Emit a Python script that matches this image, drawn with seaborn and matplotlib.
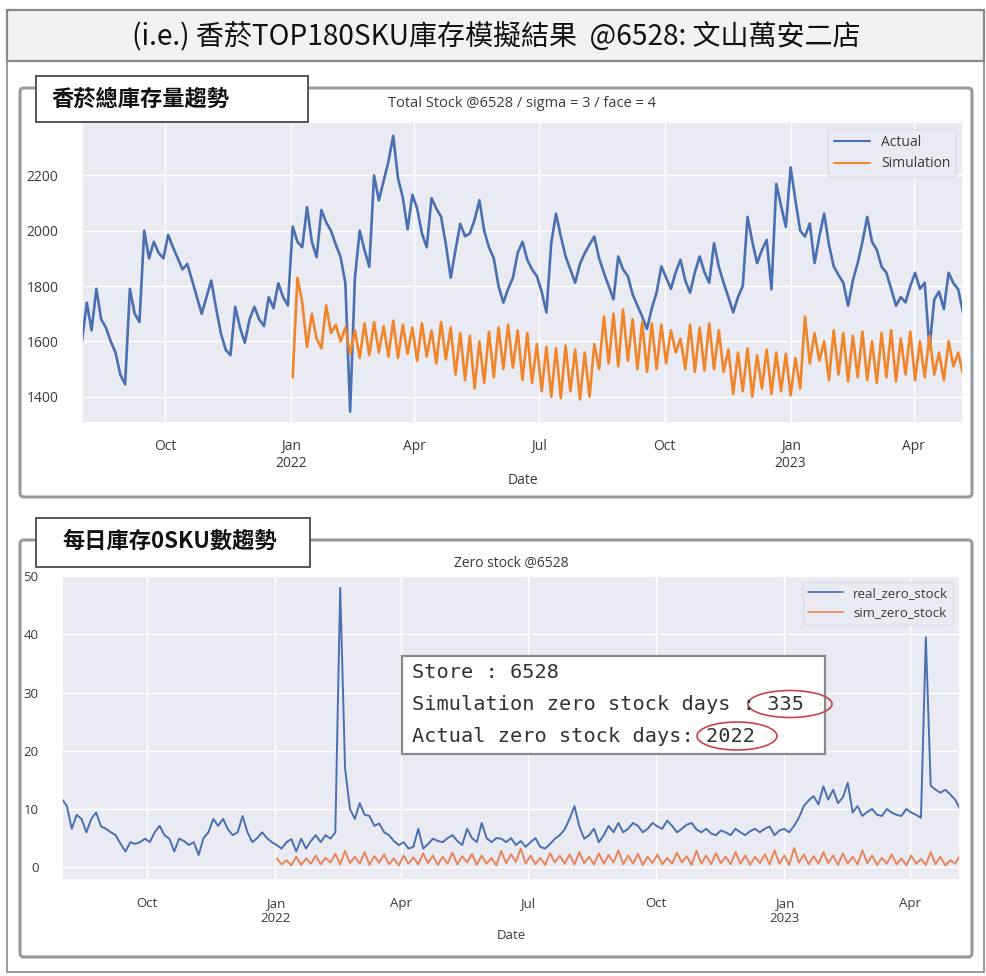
import numpy as np
import pandas as pd
import matplotlib
matplotlib.use('Agg')
import matplotlib.pyplot as plt
import matplotlib.dates as mdates
from matplotlib.patches import Rectangle, FancyBboxPatch, Ellipse
from matplotlib.ticker import FuncFormatter, MultipleLocator
import seaborn as sns

# ---------------- data ----------------
start_date = '2021-08-01'
step = '84h'  # one reading every 3.5 days

actual_stock = [
    1600, 1740, 1640, 1790, 1680, 1650, 1600, 1560, 1480, 1445,
    1790, 1700, 1670, 2000, 1900, 1960, 1920, 1900, 1985, 1940,
    1900, 1860, 1880, 1820, 1760, 1700, 1760, 1820, 1720, 1630,
    1570, 1550, 1725, 1650, 1595, 1680, 1725, 1680, 1655, 1760,
    1720, 1810, 1760, 1730, 2015, 1960, 1940, 2085, 1960, 1905,
    2075, 2030, 2000, 1950, 1905, 1811, 1346, 1830, 2000, 1930,
    1870, 2200, 2110, 2180, 2250, 2343, 2190, 2120, 2005, 2130,
    2080, 1990, 1940, 2118, 2080, 2050, 1950, 1830, 1930, 2025,
    1980, 1990, 2040, 2110, 2000, 1940, 1900, 1800, 1740, 1790,
    1830, 1920, 1960, 1895, 1860, 1836, 1780, 1705, 1955, 2062,
    1980, 1907, 1860, 1812, 1880, 1919, 1950, 1979, 1900, 1848,
    1800, 1752, 1907, 1860, 1836, 1770, 1729, 1690, 1645, 1720,
    1776, 1871, 1830, 1790, 1850, 1895, 1820, 1776, 1850, 1907,
    1850, 1812, 1955, 1870, 1812, 1760, 1705, 1760, 1800, 2050,
    1960, 1883, 1930, 1967, 1788, 2169, 2090, 2014, 2229, 2110,
    2000, 1979, 2026, 1883, 1980, 2062, 1950, 1871, 1840, 1812,
    1729, 1820, 1883, 1960, 2050, 1960, 1931, 1870, 1848, 1790,
    1729, 1760, 1741, 1800, 1848, 1790, 1812, 1574, 1752, 1780,
    1717, 1848, 1810, 1788, 1705,
]

# simulation starts 2022-01-01
sim_stock = [
    1470, 1830, 1740, 1580, 1700, 1610, 1575, 1730, 1630, 1660,
    1600, 1650, 1555, 1640, 1540, 1665, 1550, 1670, 1560, 1655,
    1545, 1675, 1540, 1660, 1555, 1650, 1530, 1665, 1545, 1640,
    1520, 1670, 1535, 1650, 1480, 1630, 1460, 1620, 1430, 1600,
    1450, 1635, 1470, 1650, 1500, 1660, 1505, 1640, 1460, 1630,
    1450, 1590, 1420, 1580, 1400, 1575, 1395, 1585, 1420, 1570,
    1390, 1560, 1400, 1590, 1500, 1690, 1520, 1700, 1510, 1715,
    1530, 1680, 1500, 1670, 1490, 1665, 1500, 1660, 1520, 1640,
    1560, 1610, 1500, 1660, 1490, 1650, 1495, 1665, 1500, 1640,
    1490, 1570, 1410, 1560, 1420, 1575, 1400, 1550, 1430, 1570,
    1410, 1560, 1420, 1555, 1405, 1540, 1430, 1690, 1520, 1630,
    1530, 1600, 1460, 1640, 1480, 1630, 1455, 1620, 1470, 1635,
    1460, 1600, 1450, 1630, 1470, 1640, 1455, 1610, 1480, 1635,
    1460, 1600, 1470, 1620, 1480, 1560, 1460, 1600, 1510, 1560,
    1480,
]

real_zero_stock = [
    11.7, 10.5, 6.6, 9.0, 8.3, 6.0, 8.3, 9.4, 7.0, 6.6,
    6.0, 5.5, 4.0, 2.7, 4.3, 4.0, 4.3, 4.9, 4.3, 6.0,
    7.1, 5.5, 4.9, 2.7, 4.9, 4.5, 3.8, 4.3, 2.1, 5.0,
    6.0, 8.3, 7.1, 8.3, 6.5, 5.5, 6.0, 8.8, 6.0, 4.3,
    5.0, 6.0, 5.0, 4.3, 3.8, 3.2, 4.3, 4.8, 2.7, 4.9,
    3.2, 4.5, 5.5, 4.3, 5.5, 4.9, 6.0, 48.0, 17.0, 10.0,
    8.3, 11.0, 9.0, 8.8, 7.1, 7.5, 6.0, 5.5, 4.5, 3.8,
    4.3, 3.2, 3.5, 6.6, 3.2, 4.0, 4.9, 4.5, 4.3, 5.0,
    5.5, 4.5, 3.8, 6.6, 5.0, 4.3, 7.6, 5.0, 4.3, 5.0,
    4.9, 4.3, 5.0, 3.8, 4.5, 3.5, 4.3, 5.0, 3.5, 3.2,
    4.0, 4.9, 5.5, 6.5, 8.3, 10.5, 7.0, 4.9, 5.5, 6.6,
    4.3, 5.5, 7.1, 6.0, 7.6, 6.0, 6.6, 7.6, 7.1, 6.0,
    6.6, 7.6, 7.0, 6.6, 8.0, 7.1, 6.0, 6.6, 7.3, 7.6,
    6.5, 6.0, 6.6, 5.8, 5.5, 6.3, 6.0, 5.5, 6.6, 6.0,
    5.5, 6.2, 6.6, 6.0, 6.6, 7.0, 5.5, 6.3, 6.6, 6.0,
    7.1, 8.5, 10.5, 11.5, 12.2, 10.8, 13.9, 11.6, 13.3, 11.0,
    12.0, 14.5, 9.4, 10.5, 8.8, 9.5, 10.0, 9.0, 8.8, 10.0,
    9.4, 9.0, 8.8, 10.0, 9.4, 9.0, 8.5, 39.5, 14.0, 13.3,
    12.8, 13.3, 12.5, 11.6, 10.0,
]

sim_zero_stock = [
    1.5, 0.5, 1.2, 0.3, 1.8, 0.4, 1.5, 0.6, 2.0, 0.5,
    1.6, 0.8, 2.3, 0.5, 2.8, 0.7, 1.8, 0.6, 2.6, 0.4,
    1.9, 0.8, 2.2, 0.5, 1.5, 0.3, 2.0, 0.6, 1.7, 0.5,
    2.4, 0.7, 2.0, 0.4, 1.8, 0.6, 2.5, 0.5, 1.9, 0.8,
    2.3, 0.4, 2.0, 0.6, 1.6, 0.3, 2.8, 0.7, 2.2, 0.9,
    3.2, 0.6, 2.0, 0.5, 1.6, 0.4, 2.4, 0.8, 2.0, 0.6,
    2.2, 0.5, 2.6, 0.7, 1.8, 0.5, 2.4, 0.6, 2.1, 0.8,
    2.9, 0.5, 2.0, 0.6, 2.3, 0.4, 1.8, 0.7, 2.2, 0.5,
    1.6, 0.6, 2.5, 0.8, 1.9, 0.4, 2.8, 0.6, 2.0, 0.5,
    2.4, 0.7, 1.8, 0.5, 2.6, 0.6, 2.0, 0.4, 1.8, 0.7,
    2.2, 0.5, 2.9, 0.6, 2.0, 0.4, 3.3, 0.8, 2.2, 0.5,
    1.9, 0.6, 2.6, 0.7, 2.0, 0.4, 2.4, 0.6, 1.8, 0.5,
    2.9, 0.7, 2.0, 0.4, 1.6, 0.6, 2.2, 0.5, 1.5, 0.3,
    2.0, 0.6, 1.4, 0.4, 2.6, 0.5, 1.8, 0.3, 1.2, 0.6,
    2.0,
]

stock_labels = ['Actual', 'Simulation']
zero_labels = ['real_zero_stock', 'sim_zero_stock']
main_title = '(i.e.) 香菸TOP180SKU庫存模擬結果  @6528: 文山萬安二店'
panel1_label = '香菸總庫存量趨勢'
panel2_label = '每日庫存0SKU數趨勢'
chart1_title = 'Total Stock @6528 / sigma = 3 / face = 4'
chart2_title = 'Zero stock @6528'
store_id = '6528'
sim_zero_days = 335
actual_zero_days = 2022

# ---------------- frames ----------------
dates = pd.date_range(start_date, periods=len(actual_stock), freq=step)
sim_dates = dates[len(dates) - len(sim_stock):]
zero_dates = pd.date_range(start_date, periods=len(real_zero_stock), freq=step)
sim_zero_dates = zero_dates[len(zero_dates) - len(sim_zero_stock):]

df_actual = pd.DataFrame({'Date': dates, 'value': actual_stock})
df_sim = pd.DataFrame({'Date': sim_dates, 'value': sim_stock})
df_rz = pd.DataFrame({'Date': zero_dates, 'value': real_zero_stock})
df_sz = pd.DataFrame({'Date': sim_zero_dates, 'value': sim_zero_stock})

# ---------------- style ----------------
sns.set_theme(style='darkgrid')
plt.rcParams['font.family'] = ['Open Sans', 'DejaVu Sans']
CJK = ['Noto Sans CJK TC', 'DejaVu Sans']

BLUE = '#4a70b2'
ORANGE1 = '#f0852a'
ORANGE2 = '#e8855a'
TXT = '#3a3a3a'

W, H = 987, 976
fig = plt.figure(figsize=(W / 100, H / 100), dpi=100)
fig.patch.set_facecolor('white')


def px_axes(l, t, r, b):
    return [l / W, 1 - b / H, (r - l) / W, (b - t) / H]


def date_fmt(x, pos):
    d = mdates.num2date(x)
    return f'Jan\n{d.year}' if d.month == 1 else d.strftime('%b')


def style_axes(ax, fs, xpad, labelpad):
    ax.xaxis.set_major_locator(mdates.MonthLocator(bymonth=[1, 4, 7, 10]))
    ax.xaxis.set_major_formatter(FuncFormatter(date_fmt))
    ax.tick_params(axis='both', labelsize=fs, labelcolor=TXT)
    ax.tick_params(axis='y', pad=11)
    ax.tick_params(axis='x', pad=xpad)
    for lab in ax.get_xticklabels():
        lab.set_horizontalalignment('center')
    ax.set_ylabel('')
    ax.set_xlabel('Date', fontsize=fs, color=TXT, labelpad=labelpad)
    ax.set_xlim(dates[0], dates[-1])
    ax.grid(color='white', linewidth=1.0)


# chart 1
ax1 = fig.add_axes(px_axes(82, 122, 963, 423))
sns.lineplot(data=df_actual, x='Date', y='value', ax=ax1, color=BLUE,
             linewidth=1.9, label=stock_labels[0], estimator=None)
sns.lineplot(data=df_sim, x='Date', y='value', ax=ax1, color=ORANGE1,
             linewidth=1.9, label=stock_labels[1], estimator=None)
ax1.set_ylim(1305, 2393)
ax1.yaxis.set_major_locator(MultipleLocator(200))
style_axes(ax1, 10, 5.5, 1)
ax1.set_title(chart1_title, fontsize=10.5, color=TXT, pad=11)
leg1 = ax1.legend(loc='upper right', fontsize=10, frameon=True,
                  handlelength=2.6, borderaxespad=0.5)
leg1.get_frame().set_facecolor('#eaeaf2')
leg1.get_frame().set_edgecolor('#dcdce6')
for t in leg1.get_texts():
    t.set_color(TXT)
for h in leg1.get_lines():
    h.set_linewidth(1.5)

# chart 2
ax2 = fig.add_axes(px_axes(62, 575, 960, 880))
sns.lineplot(data=df_rz, x='Date', y='value', ax=ax2, color=BLUE,
             linewidth=1.4, label=zero_labels[0], estimator=None)
sns.lineplot(data=df_sz, x='Date', y='value', ax=ax2, color=ORANGE2,
             linewidth=1.4, label=zero_labels[1], estimator=None)
ax2.set_ylim(-2.2, 50.2)
ax2.yaxis.set_major_locator(MultipleLocator(10))
style_axes(ax2, 9.5, 6.5, 2.5)
ax2.set_title(chart2_title, fontsize=10, color=TXT, pad=6)
leg2 = ax2.legend(loc='upper right', fontsize=9.5, frameon=True,
                  handlelength=2.6, borderaxespad=0.5)
leg2.get_frame().set_facecolor('#eaeaf2')
leg2.get_frame().set_edgecolor('#dcdce6')
for t in leg2.get_texts():
    t.set_color(TXT)
for h in leg2.get_lines():
    h.set_linewidth(1.2)

# ---------------- overlay decorations (pixel coordinates) ----------------
ov = fig.add_axes([0, 0, 1, 1], zorder=10)
ov.set_xlim(0, W)
ov.set_ylim(H, 0)
ov.axis('off')
ov.patch.set_alpha(0)

# outer frame and title bar
ov.add_patch(Rectangle((7, 10), 977, 962, fill=False, ec='#8a8a8a', lw=1.2))
ov.add_patch(Rectangle((7, 10), 977, 51, fc='#f2f2f2', ec='#8a8a8a', lw=1.6))
ov.text(496, 36, main_title, ha='center', va='center', fontsize=20.2,
        family=CJK, color='#111111')

# panels
for top, bot in [(88, 497), (540, 957)]:
    ov.add_patch(FancyBboxPatch((20, top), 952, bot - top,
                                boxstyle='round,pad=0,rounding_size=4',
                                fill=False, ec='#9a9a9a', lw=2.2))

# panel labels
ov.add_patch(Rectangle((36, 76), 272, 46, fc='white', ec='#4a4a4a', lw=1.3))
ov.text(52, 99, panel1_label, ha='left', va='center', fontsize=16,
        family=CJK, fontweight='bold', color='#111111')
ov.add_patch(Rectangle((36, 518), 274, 49, fc='white', ec='#4a4a4a', lw=1.3))
ov.text(62, 541, panel2_label, ha='left', va='center', fontsize=16,
        family=CJK, fontweight='bold', color='#111111')

# info box in zero-stock chart
ov.add_patch(Rectangle((402, 656), 423, 98, fc='white', ec='#8a8a8a', lw=1.6))
mono = ['DejaVu Sans Mono']
info_lines = [f'Store : {store_id}',
              f'Simulation zero stock days : {sim_zero_days}',
              f'Actual zero stock days: {actual_zero_days}']
for yy, line in zip([672, 704, 737], info_lines):
    ov.text(412, yy, line, ha='left', va='center', fontsize=14.6,
            family=mono, color='#333333')
ov.add_patch(Ellipse((790, 704), 84, 27, fill=False, ec='#c9454a', lw=1.2))
ov.add_patch(Ellipse((737, 736), 80, 28, fill=False, ec='#c9454a', lw=1.2))

fig.savefig('out.png', dpi=100, facecolor='white')
